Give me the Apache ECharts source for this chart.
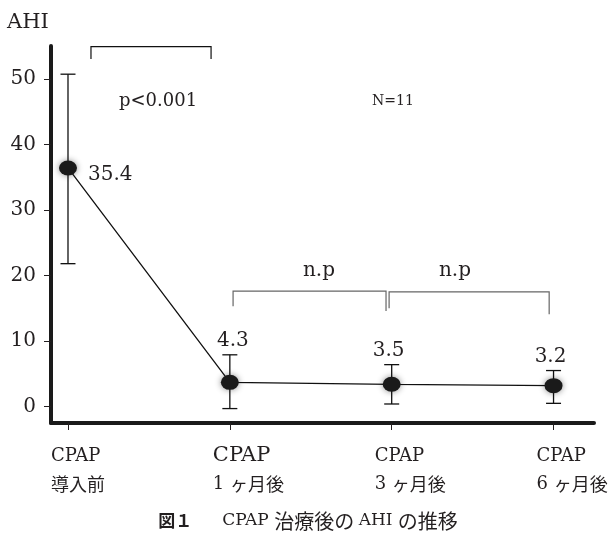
<!DOCTYPE html>
<html>
<head>
<meta charset="utf-8">
<script src="https://cdn.jsdelivr.net/npm/echarts@6/dist/echarts.min.js"></script>
<style>
html,body{margin:0;padding:0;background:#fff;}
#chart{width:612px;height:538px;}
</style>
</head>
<body>
<div id="chart"></div>
<script>
// ---- data ----
const catTop = ['CPAP', 'CPAP', 'CPAP', 'CPAP'];
const catDigit = ['', '1 ', '3 ', '6 '];
const catBottom = ['導入前', 'ヶ月後', 'ヶ月後', 'ヶ月後'];
const catIndex = [0, 1, 2, 3];
const meanPlotted = [36.4, 3.7, 3.4, 3.2];
const meanLabels = ['35.4', '4.3', '3.5', '3.2'];
const errUpper = [50.7, 7.9, 6.4, 5.5];
const errLower = [21.8, -0.3, 0.4, 0.5];
const yTicks = [0, 10, 20, 30, 40, 50];
// brackets: [xStart, xEnd, yTop, yLeftBottom, yRightBottom]
const brackets = [
  [0.142, 0.884, 54.9, 53.0, 53.0],
  [1.02, 1.965, 17.6, 15.3, 14.6],
  [1.984, 2.973, 17.5, 15.0, 14.1]
];
const bracketColors = ['#111', '#666', '#666'];

const SERIF = 'DejaVu Serif';
const JP = 'Noto Sans CJK JP';
const INK = '#231f20';
const AXIS = '#1a1a1a';

const chart = echarts.init(document.getElementById('chart'), null, {renderer: 'canvas'});

const option = {
  backgroundColor: '#fff',
  animation: false,
  grid: {left: 51, top: 46, width: 543, height: 377},
  xAxis: {
    type: 'value',
    min: -0.105,
    max: 3.25,
    splitLine: {show: false},
    axisLine: {show: true, onZero: false, lineStyle: {color: AXIS, width: 4}},
    axisTick: {show: true, customValues: catIndex, length: 7, lineStyle: {color: INK, width: 1}},
    axisLabel: {
      show: true,
      customValues: catIndex,
      margin: 19,
      width: 34,
      overflow: 'none',
      align: 'center',
      formatter: function (v) {
        const i = Math.round(v);
        const top = i === 1 ? '{cb|' + catTop[i] + '}' : '{c|' + catTop[i] + '}';
        const d = catDigit[i] ? '{d|' + catDigit[i] + '}' : '';
        return top + '\n' + d + '{j|' + catBottom[i] + '}';
      },
      rich: {
        c: {fontFamily: SERIF, fontSize: 18, lineHeight: 28, color: INK, align: 'left'},
        cb: {fontFamily: SERIF, fontSize: 21, lineHeight: 28, color: INK, align: 'left'},
        d: {fontFamily: SERIF, fontSize: 18, lineHeight: 28, color: INK, align: 'left'},
        j: {fontFamily: JP, fontSize: 18, lineHeight: 28, color: INK, align: 'left'}
      }
    }
  },
  yAxis: {
    type: 'value',
    min: -2.5,
    max: 55,
    position: 'left',
    splitLine: {show: false},
    axisLine: {show: true, onZero: false, lineStyle: {color: AXIS, width: 4}},
    axisTick: {show: true, customValues: yTicks, length: 7, lineStyle: {color: INK, width: 1}},
    axisLabel: {
      show: true,
      customValues: yTicks,
      margin: 15,
      fontFamily: SERIF,
      fontSize: 20,
      color: INK
    }
  },
  series: [
    {
      type: 'custom',
      name: 'brackets',
      z: 1,
      data: brackets,
      renderItem: function (params, api) {
        const x1 = api.value(0), x2 = api.value(1), yt = api.value(2), yl = api.value(3), yr = api.value(4);
        const pL = api.coord([x1, yt]), pR = api.coord([x2, yt]);
        const pLb = api.coord([x1, yl]), pRb = api.coord([x2, yr]);
        const color = bracketColors[params.dataIndex];
        return {
          type: 'polyline',
          shape: {points: [[pLb[0], pLb[1]], [pL[0], pL[1]], [pR[0], pR[1]], [pRb[0], pRb[1]]]},
          style: {stroke: color, lineWidth: 1.2, fill: null}
        };
      }
    },
    {
      type: 'custom',
      name: 'errorbars',
      z: 2,
      data: catIndex.map((c, i) => [c, errLower[i], errUpper[i], meanPlotted[i]]),
      renderItem: function (params, api) {
        const x = api.value(0), lo = api.value(1), hi = api.value(2), m = api.value(3);
        const pHi = api.coord([x, hi]), pLo = api.coord([x, lo]), pM = api.coord([x, m]);
        const cap = 7.5;
        const st = {stroke: '#111', lineWidth: 1.3};
        const i = params.dataIndex;
        const children = [
          {type: 'line', shape: {x1: pHi[0], y1: pHi[1], x2: pLo[0], y2: pLo[1]}, style: st},
          {type: 'line', shape: {x1: pHi[0] - cap, y1: pHi[1], x2: pHi[0] + cap, y2: pHi[1]}, style: st},
          {type: 'line', shape: {x1: pLo[0] - cap, y1: pLo[1], x2: pLo[0] + cap, y2: pLo[1]}, style: st}
        ];
        if (i === 0) {
          children.push({type: 'text', style: {text: meanLabels[i], x: pM[0] + 20, y: pM[1] + 7,
            align: 'left', verticalAlign: 'middle', fontFamily: SERIF, fontSize: 20, fill: INK}});
        } else {
          children.push({type: 'text', style: {text: meanLabels[i], x: pHi[0] + (i === 1 ? 3 : -3), y: pHi[1] - 4,
            align: 'center', verticalAlign: 'bottom', fontFamily: SERIF, fontSize: 20, fill: INK}});
        }
        return {type: 'group', children: children};
      }
    },
    {
      type: 'line',
      name: 'AHI',
      z: 3,
      data: catIndex.map((c, i) => [c, meanPlotted[i]]),
      symbol: 'circle',
      symbolSize: [18, 15],
      lineStyle: {color: '#111', width: 1.3},
      itemStyle: {color: '#1a1a1a', shadowBlur: 6, shadowColor: 'rgba(0,0,0,0.45)'},
      label: {show: false}
    }
  ],
  graphic: [
    {type: 'text', left: 7, top: 12, style: {text: 'AHI', fontFamily: SERIF, fontSize: 21, fill: INK}},
    {type: 'text', left: 119, top: 92, style: {text: 'p<0.001', fontFamily: SERIF, fontSize: 18, fill: INK}},
    {type: 'text', left: 372, top: 94, style: {text: 'N=11', fontFamily: SERIF, fontSize: 14, fill: INK}},
    {type: 'text', x: 319, y: 271, style: {text: 'n.p', fontFamily: SERIF, fontSize: 20, fill: INK, align: 'center', verticalAlign: 'middle'}},
    {type: 'text', x: 455, y: 271, style: {text: 'n.p', fontFamily: SERIF, fontSize: 20, fill: INK, align: 'center', verticalAlign: 'middle'}},
    {type: 'text', x: 308, y: 521, style: {
      text: '{b|図１}{s|\u3000\u3000}{t|CPAP }{j|治療後の }{t|AHI }{j|の推移}',
      align: 'center', verticalAlign: 'middle',
      rich: {
        b: {fontFamily: JP, fontWeight: 'bold', fontSize: 17, fill: INK},
        s: {fontFamily: JP, fontSize: 15, fill: INK},
        t: {fontFamily: SERIF, fontSize: 17, fill: INK},
        j: {fontFamily: JP, fontSize: 20, fill: INK}
      }
    }}
  ]
};
chart.setOption(option);
</script>
</body>
</html>
